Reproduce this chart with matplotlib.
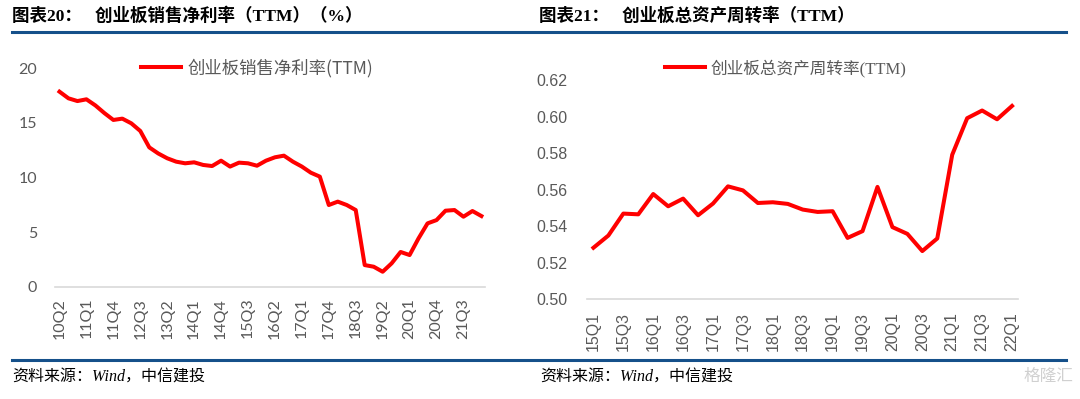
import matplotlib
matplotlib.use('Agg')
import matplotlib.pyplot as plt
from matplotlib.lines import Line2D

plt.rcParams['font.family'] = ['Noto Sans CJK SC', 'DejaVu Sans']
plt.rcParams['axes.unicode_minus'] = False

# 图表20 数据：创业板销售净利率(TTM)，10Q2 - 22Q1
q_left = []
for y in range(10, 23):
    for q in range(1, 5):
        q_left.append('%dQ%d' % (y, q))
q_left = q_left[1:q_left.index('22Q1') + 1]
margin_vals = [17.86, 17.25, 17.0, 17.16, 16.6, 15.9, 15.27, 15.39, 14.96, 14.26,
               12.76, 12.2, 11.76, 11.45, 11.3, 11.39, 11.15, 11.05, 11.54, 11.0,
               11.36, 11.3, 11.08, 11.54, 11.85, 12.0, 11.45, 11.0, 10.44, 10.08,
               7.48, 7.79, 7.48, 7.02, 1.98, 1.83, 1.37, 2.14, 3.18, 2.9,
               4.43, 5.8, 6.1, 6.96, 7.02, 6.41, 6.93, 6.47]
left_yticks = [0, 5, 10, 15, 20]

# 图表21 数据：创业板总资产周转率(TTM)，15Q1 - 22Q1
q_right = []
for y in range(15, 23):
    for q in range(1, 5):
        q_right.append('%dQ%d' % (y, q))
q_right = q_right[:q_right.index('22Q1') + 1]
turnover_vals = [0.5282, 0.5349, 0.5469, 0.5465, 0.5576, 0.5509, 0.5551, 0.5460,
                 0.5524, 0.5618, 0.5596, 0.5527, 0.5531, 0.5522, 0.5491, 0.5478,
                 0.5482, 0.5336, 0.5373, 0.5615, 0.5395, 0.5358, 0.5264, 0.5333,
                 0.5791, 0.5991, 0.6033, 0.5985, 0.6058]
right_yticks = [0.50, 0.52, 0.54, 0.56, 0.58, 0.60, 0.62]

W, H = 1080, 399
fig = plt.figure(figsize=(W / 100, H / 100), dpi=100)


def fx(px):
    return px / W


def fy(py):
    return 1 - py / H


gray = '#595959'
blue = '#15508A'

# ---- 左图
ax1 = fig.add_axes([fx(55), fy(286.7), fx(485 - 55), (286.7 - 68.3) / H])
x1 = list(range(len(margin_vals)))
ax1.plot(x1, margin_vals, color='#FF0000', lw=2.9, solid_joinstyle='round',
         label='创业板销售净利率(TTM)')
ax1.set_xlim(-0.5, 47.4)
ax1.set_ylim(0, 20)
ax1.set_yticks(left_yticks)
ax1.set_yticklabels([str(v) for v in left_yticks], family='Lato', fontsize=11.5, color=gray)
ax1.set_xticks(x1[::3])
ax1.set_xticklabels(q_left[::3], rotation=90, family='Lato', fontsize=11.5, color=gray,
                    va='top')
ax1.tick_params(axis='y', length=0, pad=13)
ax1.tick_params(axis='x', length=0, pad=8)
for s in ['top', 'right', 'left']:
    ax1.spines[s].set_visible(False)
ax1.spines['bottom'].set_color('#D9D9D9')
ax1.spines['bottom'].set_linewidth(1.2)
leg1 = ax1.legend(loc='center', bbox_to_anchor=(fx(257), fy(68)), bbox_transform=fig.transFigure,
                  frameon=False, handlelength=2.3, handletextpad=0.35,
                  prop={'size': 12.5, 'family': ['Noto Sans CJK SC', 'DejaVu Sans']})
for t in leg1.get_texts():
    t.set_color(gray)

# ---- 右图
ax2 = fig.add_axes([fx(586.7), fy(299.3), fx(1018 - 586.7), (299.3 - 80) / H])
x2 = list(range(len(turnover_vals)))
ax2.plot(x2, turnover_vals, color='#FF0000', lw=2.9, solid_joinstyle='round',
         label='创业板总资产周转率(TTM)')
ax2.set_xlim(-0.45, 28.4)
ax2.set_ylim(0.50, 0.62)
ax2.set_yticks(right_yticks)
ax2.set_yticklabels(['%.2f' % v for v in right_yticks], family='Liberation Sans',
                    fontsize=11.5, color=gray)
ax2.set_xticks(x2[::2])
ax2.set_xticklabels(q_right[::2], rotation=90, family='Liberation Sans', fontsize=11.5,
                    color=gray, va='top')
ax2.tick_params(axis='y', length=0, pad=14)
ax2.tick_params(axis='x', length=0, pad=9)
for s in ['top', 'right', 'left']:
    ax2.spines[s].set_visible(False)
ax2.spines['bottom'].set_color('#D9D9D9')
ax2.spines['bottom'].set_linewidth(1.2)
leg2 = ax2.legend(loc='center', bbox_to_anchor=(fx(786), fy(68)), bbox_transform=fig.transFigure,
                  frameon=False, handlelength=2.4, handletextpad=0.35,
                  prop={'size': 12, 'family': ['Liberation Serif', 'Noto Sans CJK SC']})
for t in leg2.get_texts():
    t.set_color(gray)

# ---- 标题、分隔线、资料来源
fig.text(fx(12), fy(16), '图表20：   创业板销售净利率（TTM）（%）', fontsize=12.6,
         fontweight='bold', family=['Liberation Serif', 'Noto Sans CJK SC'], va='center')
fig.text(fx(539), fy(16), '图表21：   创业板总资产周转率（TTM）', fontsize=12.6,
         fontweight='bold', family=['Liberation Serif', 'Noto Sans CJK SC'], va='center')
fig.add_artist(Line2D([fx(12), fx(1066)], [fy(32), fy(32)], color=blue, lw=2.2))
fig.add_artist(Line2D([fx(12), fx(1066)], [fy(360), fy(360)], color=blue, lw=2.2))
fig.text(fx(12), fy(378), '资料来源：Wind，中信建投', fontsize=11.5, style='italic',
         family=['Liberation Serif', 'Noto Sans CJK SC'], va='center')
fig.text(fx(540), fy(378), '资料来源：Wind，中信建投', fontsize=11.5, style='italic',
         family=['Liberation Serif', 'Noto Sans CJK SC'], va='center')
fig.text(fx(1073), fy(376), '格隆汇', fontsize=12, color='#D0D0D0', ha='right', va='center')

fig.savefig('out.png', dpi=100)
